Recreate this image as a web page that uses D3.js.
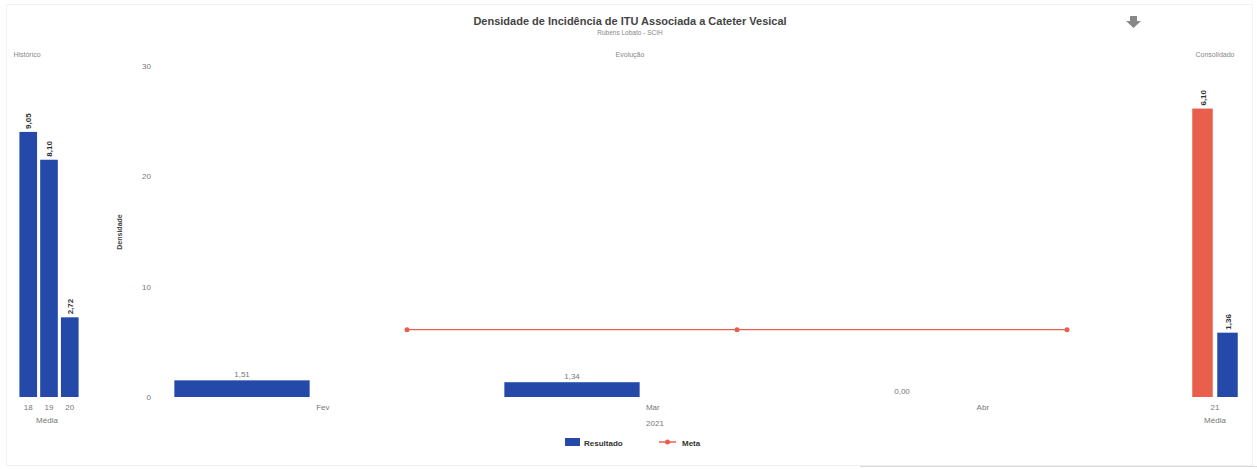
<html><head>
<meta charset="utf-8">
<script src="https://d3js.org/d3.v7.min.js"></script>
<style>
  body { margin: 0; background: #fff; }
  svg text { font-family: "Liberation Sans", Arial, sans-serif; }
  .tick-label { fill: #777; font-size: 8px; }
  .panel-title { fill: #888; font-size: 7px; }
  .val-label { fill: #333; font-size: 8px; font-weight: bold; }
</style>
</head>
<body>
<svg id="chart" width="1257" height="469"></svg>
<script>
// data
const months = ["Fev", "Mar", "Abr"];
const resultado = [1.51, 1.34, 0.00];
const meta = [6.10, 6.10, 6.10];
const histYears = ["18", "19", "20"];
const histValues = [9.05, 8.10, 2.72];
const consYear = "21";
const consMeta = 6.10;
const consResult = 1.36;
const yTicks = [0, 10, 20, 30];

const blue = "#2449a8";
const red = "#e8604c";
const fmt = v => v.toFixed(2).replace(".", ",");

const svg = d3.select("#chart");
const baseY = 397, topY = 66;

// faint frame
svg.append("rect").attr("x", 6.5).attr("y", 4.5).attr("width", 1246).attr("height", 461)
  .attr("fill", "none").attr("stroke", "#f2f2f2");
svg.append("line").attr("x1", 860).attr("x2", 1257).attr("y1", 466.5).attr("y2", 466.5)
  .attr("stroke", "#d8d8d8");

// titles
svg.append("text").attr("x", 630).attr("y", 25).attr("text-anchor", "middle")
  .attr("font-size", 11).attr("font-weight", "bold").attr("fill", "#444")
  .text("Densidade de Incidência de ITU Associada a Cateter Vesical");
svg.append("text").attr("x", 630).attr("y", 35).attr("text-anchor", "middle")
  .attr("font-size", 6.5).attr("fill", "#888").text("Rubens Lobato - SCIH");
svg.append("text").attr("class", "panel-title").attr("x", 630).attr("y", 57).attr("text-anchor", "middle").text("Evolução");
svg.append("text").attr("class", "panel-title").attr("x", 27).attr("y", 57).attr("text-anchor", "middle").text("Histórico");
svg.append("text").attr("class", "panel-title").attr("x", 1215).attr("y", 57).attr("text-anchor", "middle").text("Consolidado");

// download arrow icon
svg.append("path")
  .attr("d", "M1130,16 h7 v5 h4 l-7.5,7 l-7.5,-7 h4 z")
  .attr("fill", "#888");

// ---- Histórico panel
const hx = d3.scaleBand().domain(histYears).range([19, 79]).paddingInner(0.15).paddingOuter(0.02);
const hy = d3.scaleLinear().domain([0, 11.3]).range([baseY, topY]);
const hist = svg.append("g");
hist.selectAll("rect").data(histValues).enter().append("rect")
  .attr("x", (d, i) => hx(histYears[i]))
  .attr("width", hx.bandwidth())
  .attr("y", d => hy(d))
  .attr("height", d => baseY - hy(d))
  .attr("fill", blue);
hist.selectAll(".val-label").data(histValues).enter().append("text")
  .attr("class", "val-label")
  .attr("transform", (d, i) => "translate(" + (hx(histYears[i]) + hx.bandwidth() / 2 + 3) + "," + (hy(d) - 3) + ") rotate(-90)")
  .text(d => fmt(d));
hist.selectAll(".tick-label").data(histYears).enter().append("text")
  .attr("class", "tick-label").attr("text-anchor", "middle")
  .attr("x", d => hx(d) + hx.bandwidth() / 2).attr("y", 410).text(d => d);
svg.append("text").attr("class", "tick-label").attr("x", 47).attr("y", 423).attr("text-anchor", "middle").text("Média");

// ---- Consolidado panel
const cx = d3.scaleBand().domain(["meta", "res"]).range([1191, 1239]).paddingInner(0.18).paddingOuter(0.05);
const cy = d3.scaleLinear().domain([0, 7.0]).range([baseY, topY]);
const consData = [{k: "meta", v: consMeta, c: red}, {k: "res", v: consResult, c: blue}];
const cons = svg.append("g");
cons.selectAll("rect").data(consData).enter().append("rect")
  .attr("x", d => cx(d.k)).attr("width", cx.bandwidth())
  .attr("y", d => cy(d.v)).attr("height", d => baseY - cy(d.v))
  .attr("fill", d => d.c);
cons.selectAll(".val-label").data(consData).enter().append("text")
  .attr("class", "val-label")
  .attr("transform", d => "translate(" + (cx(d.k) + cx.bandwidth() / 2 + 3) + "," + (cy(d.v) - 3) + ") rotate(-90)")
  .text(d => fmt(d.v));
svg.append("text").attr("class", "tick-label").attr("x", 1215).attr("y", 410).attr("text-anchor", "middle").text(consYear);
svg.append("text").attr("class", "tick-label").attr("x", 1215).attr("y", 423).attr("text-anchor", "middle").text("Média");

// ---- Evolução (main)
const x = d3.scaleBand().domain(months).range([77, 1067]).padding(0);
const y = d3.scaleLinear().domain([0, 30]).range([baseY, topY]);
const bw = x.bandwidth() * 0.41;

const yAxis = svg.append("g").attr("transform", "translate(151,0)")
  .call(d3.axisLeft(y).tickValues(yTicks).tickSize(0).tickPadding(0));
yAxis.select(".domain").remove();
yAxis.selectAll("text").attr("class", "tick-label").attr("font-size", null).attr("fill", null);

svg.append("text").attr("transform", "translate(122,232) rotate(-90)")
  .attr("text-anchor", "middle").attr("font-size", 7).attr("font-weight", "bold").attr("fill", "#444").text("Densidade");

const main = svg.append("g");
main.selectAll("rect").data(resultado).enter().append("rect")
  .attr("x", (d, i) => x(months[i]) + x.bandwidth() / 2 - bw / 2)
  .attr("width", bw)
  .attr("y", d => y(d))
  .attr("height", d => baseY - y(d))
  .attr("fill", blue);
main.selectAll(".bar-label").data(resultado).enter().append("text")
  .attr("class", "tick-label").attr("text-anchor", "middle")
  .attr("x", (d, i) => x(months[i]) + x.bandwidth() / 2)
  .attr("y", d => y(d) - 3)
  .text(d => fmt(d));

main.selectAll(".month").data(months).enter().append("text")
  .attr("class", "tick-label").attr("text-anchor", "middle")
  .attr("x", d => x(d) + x.bandwidth() * 0.745).attr("y", 410).text(d => d);
svg.append("text").attr("class", "tick-label").attr("x", 655).attr("y", 426).attr("text-anchor", "middle").text("2021");

const metaX = (d, i) => x(months[i]) + x.bandwidth();
main.append("path").datum(meta)
  .attr("d", d3.line().x(metaX).y(d => y(d)))
  .attr("fill", "none").attr("stroke", red).attr("stroke-width", 1.2);
main.selectAll(".meta-pt").data(meta).enter().append("circle")
  .attr("cx", metaX).attr("cy", d => y(d)).attr("r", 2.5).attr("fill", red);

// legend
const leg = svg.append("g");
leg.append("rect").attr("x", 565).attr("y", 438).attr("width", 15).attr("height", 8).attr("fill", blue);
leg.append("text").attr("x", 584).attr("y", 445.5).attr("font-size", 8).attr("font-weight", "bold").attr("fill", "#333").text("Resultado");
leg.append("line").attr("x1", 659).attr("x2", 676).attr("y1", 442).attr("y2", 442).attr("stroke", red).attr("stroke-width", 1.5);
leg.append("circle").attr("cx", 667.5).attr("cy", 442).attr("r", 2.5).attr("fill", red);
leg.append("text").attr("x", 682).attr("y", 445.5).attr("font-size", 8).attr("font-weight", "bold").attr("fill", "#333").text("Meta");
</script>
</body></html>
